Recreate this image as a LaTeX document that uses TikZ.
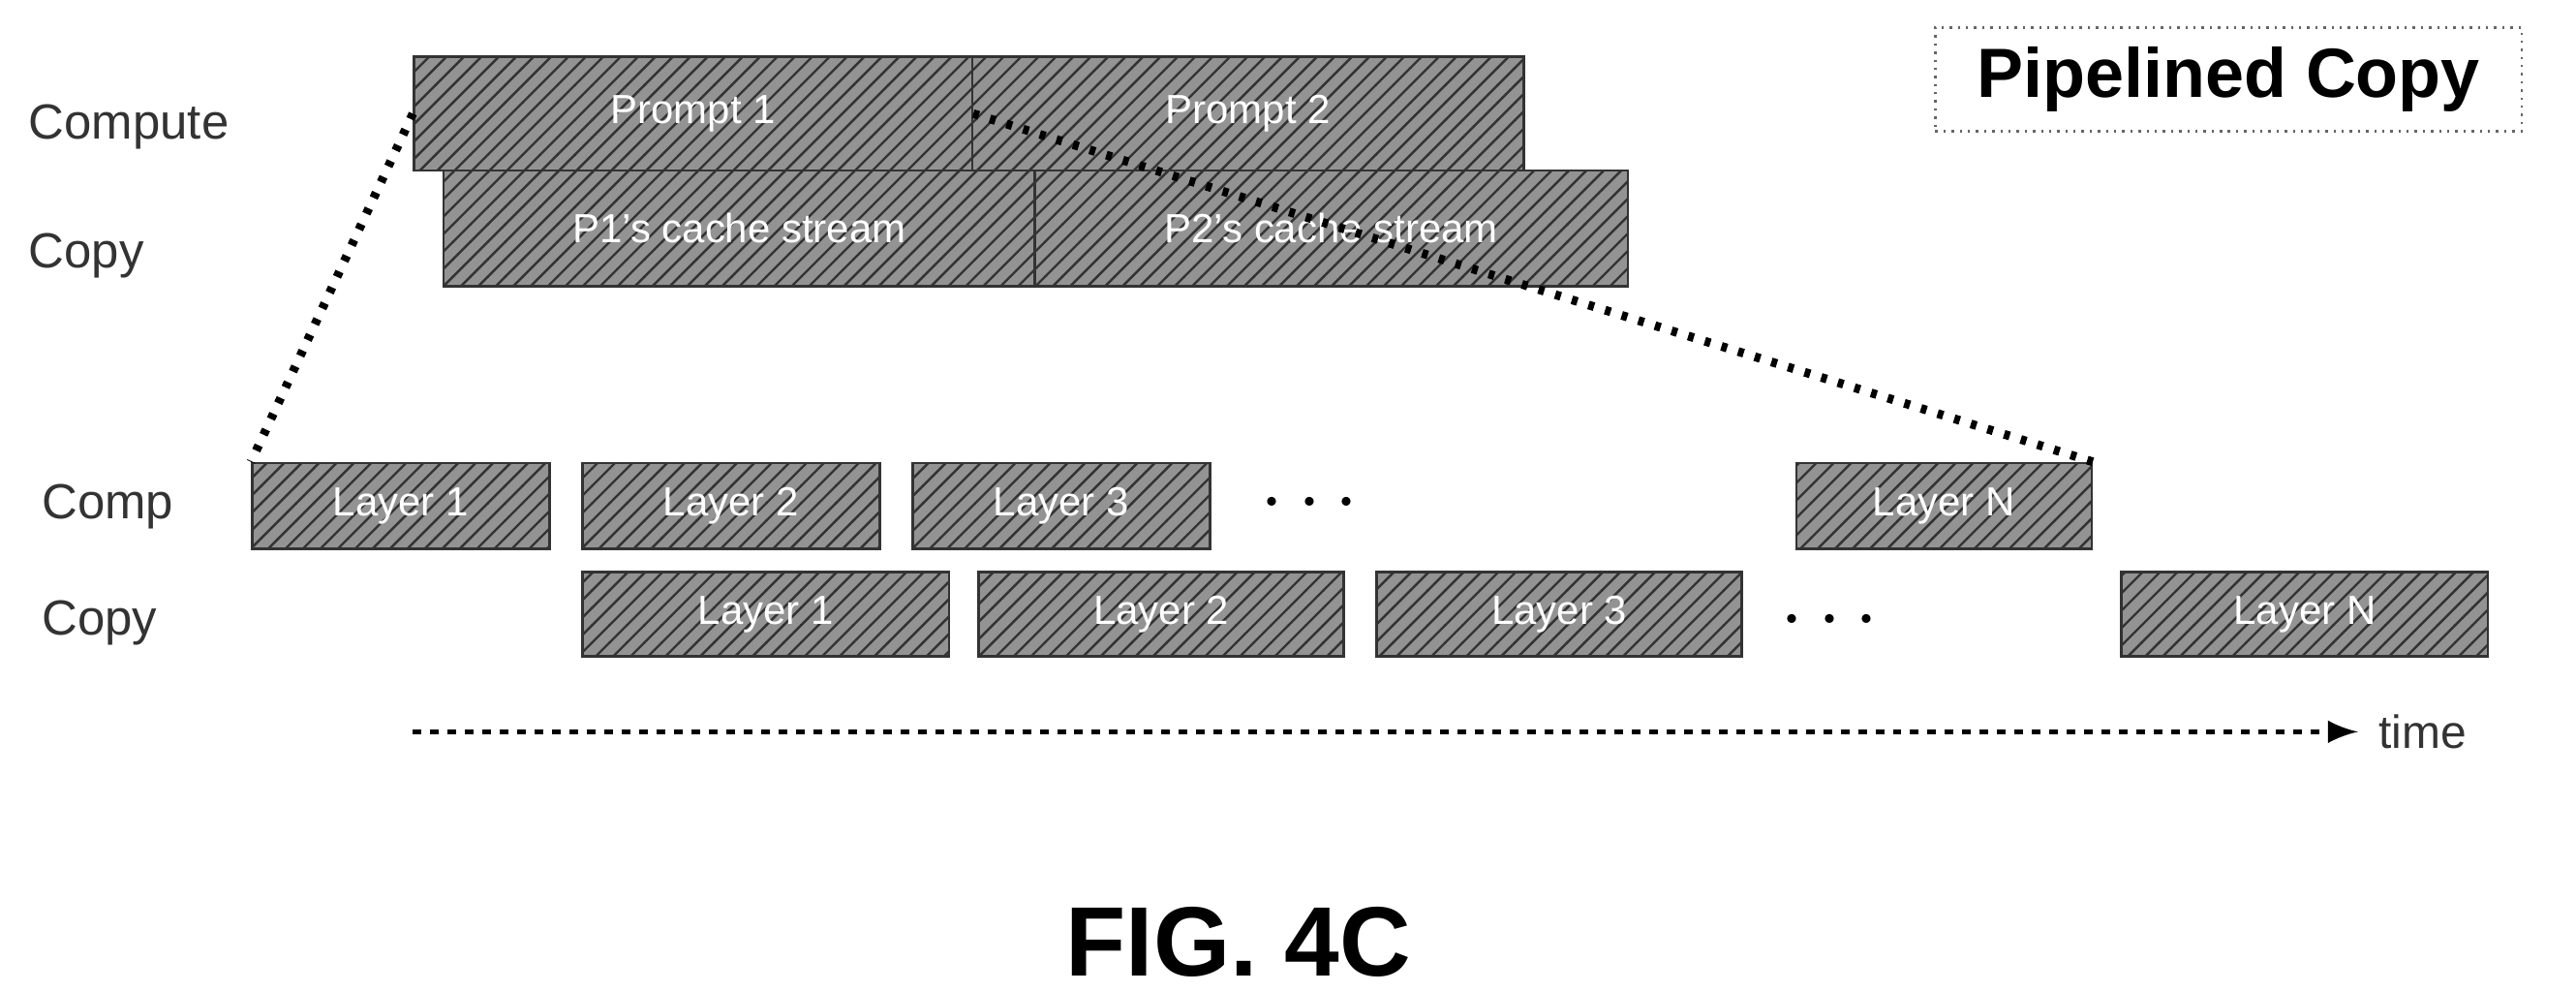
\documentclass[tikz,border=0pt]{standalone}
\usepackage{fontspec}
\setmainfont{Liberation Sans}
\usetikzlibrary{arrows.meta}
\usetikzlibrary{patterns}
\tikzset{
  blk/.style={draw=black!80,fill=gray!85,postaction={pattern=north east lines,pattern color=black!80},
    text=white,font=\fontsize{7}{7}\selectfont,inner sep=0pt,anchor=south west},
  lab/.style={anchor=west,font=\fontsize{8.5}{8.5}\selectfont,text=black!80},
  dots/.style={line width=1.5pt,dash pattern=on 1pt off 2pt,black}
}
\newcommand{\blk}[5]{\node[blk,minimum width=#3cm,minimum height=#4cm] (#1) at #2 {#5};}
\begin{document}
\begin{tikzpicture}[>=latex]
\useasboundingbox (0,0) rectangle (15.6,6.0);
\node[lab] (compute) at (0.05,5.23) {Compute};
\node[lab] (copy) at (0.05,4.45) {Copy};
\node[lab] (comp) at (0.13,2.93) {Comp};
\node[lab] (copyb) at (0.13,2.23) {Copy};

\blk{p1}{(2.50,4.96)}{3.38}{0.69}{Prompt 1}
\blk{p2}{(5.88,4.96)}{3.34}{0.69}{Prompt 2}
\blk{c1}{(2.68,4.26)}{3.58}{0.70}{P1's cache stream}
\blk{c2}{(6.26,4.26)}{3.59}{0.70}{P2's cache stream}

\blk{l1}{(1.52,2.67)}{1.80}{0.52}{Layer 1}
\blk{l2}{(3.52,2.67)}{1.80}{0.52}{Layer 2}
\blk{l3}{(5.52,2.67)}{1.80}{0.52}{Layer 3}
\blk{ln}{(10.87,2.67)}{1.79}{0.52}{Layer N}
\node[font=\bfseries\fontsize{14}{14}\selectfont] (cdots) at (7.93,2.95) {$\cdots$};

\blk{k1}{(3.52,2.02)}{2.22}{0.51}{Layer 1}
\blk{k2}{(5.92,2.02)}{2.21}{0.51}{Layer 2}
\blk{k3}{(8.33,2.02)}{2.21}{0.51}{Layer 3}
\blk{kn}{(12.84,2.02)}{2.22}{0.51}{Layer N}
\node[font=\bfseries\fontsize{14}{14}\selectfont] (kdots) at (11.08,2.24) {$\cdots$};

\draw[dots] (p1.west) -- (l1.north west);
\draw[dots] (p1.east) -- (ln.north east);

\coordinate (t0) at (2.50,1.57);
\node[anchor=west,font=\fontsize{8}{8}\selectfont,text=black!80] (time) at (14.28,1.57) {time};
\draw[->,line width=0.8pt,dash pattern=on 1.5pt off 1.5pt] (t0) -- (time.west);

\node[draw=black!60,densely dotted,minimum width=3.55cm,minimum height=0.6cm,font=\bfseries\fontsize{12}{12}\selectfont] (title) at (13.495,5.52) {Pipelined Copy};
\node[font=\bfseries\fontsize{17}{17}\selectfont] (fig) at (7.5,0.3) {FIG. 4C};
\end{tikzpicture}
\end{document}
